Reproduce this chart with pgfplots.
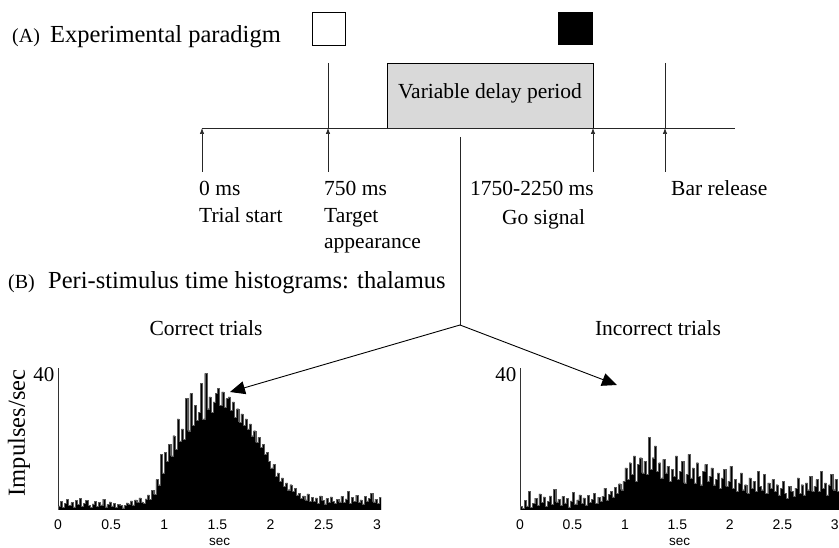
\documentclass[border=0pt]{standalone}
\usepackage{pgfplots}
\pgfplotsset{compat=1.18}
\usepackage{fontspec}
\setmainfont{Liberation Serif}
\newfontfamily\arial{Liberation Sans}
\usetikzlibrary{arrows.meta}

\newcommand\fbig{\fontsize{24.5}{28}\selectfont}
\newcommand\flab{\fontsize{20}{24}\selectfont}
\newcommand\ftxt{\fontsize{21.5}{25}\selectfont}
\newcommand\ftick{\arial\fontsize{14}{16}\selectfont}

\pgfplotsset{psth/.style={
  scale only axis, height=141.75pt,
  xmin=0, ymin=0, ymax=42,
  axis y line=left, axis x line=bottom,
  axis line style={-},
  x axis line style={draw=none},
  y axis line style={line width=0.6pt, black!80},
  xtick={0,0.5,1,1.5,2,2.5,3},
  xticklabels={0,0.5,1,1.5,2,2.5,3},
  ytick={40}, yticklabels={40},
  major tick length=0pt,
  /pgf/number format/assume math mode=true,
  xticklabel style={font=\ftick, yshift=-6pt},
  yticklabel style={font=\fontsize{21}{24}\selectfont},
  xlabel={sec},
  xlabel style={font=\arial\fontsize{13.5}{15}\selectfont, yshift=-2pt},
}}

\begin{document}
\begin{tikzpicture}[x=1pt,y=1pt]
\useasboundingbox (0,0) rectangle (839,548);

% (A) paradigm
\node[anchor=base west, inner sep=0] at (12,505) {\flab (A)};
\node[anchor=base west, inner sep=0] at (50,505) {\fbig Experimental paradigm};
\draw[line width=0.8pt] (312,503) rectangle (345,536);
\fill[black] (558,503) rectangle (593,536);

\draw[line width=0.8pt, fill=black!15] (387,420) rectangle (593,485);
\node at (490,455) {\ftxt Variable delay period};
\draw[line width=0.8pt, black!85] (202,420) -- (735,420);
\draw[line width=0.7pt, black!85] (328,485) -- (328,420);
\draw[line width=0.7pt, black!85] (665,485) -- (665,420);
\foreach \xx in {202,328,593,665}
  \draw[line width=0.7pt, black!85, -{Latex[length=6pt,width=4.5pt]}] (\xx,376) -- (\xx,420);

\node[anchor=base west, inner sep=0] at (199,352) {\ftxt 0 ms};
\node[anchor=base west, inner sep=0] at (199,325) {\ftxt Trial start};
\node[anchor=base west, inner sep=0] at (324,352) {\ftxt 750 ms};
\node[anchor=base west, inner sep=0] at (324,325) {\ftxt Target};
\node[anchor=base west, inner sep=0] at (324,299) {\ftxt appearance};
\node[anchor=base west, inner sep=0] at (470,352) {\ftxt 1750-2250 ms};
\node[anchor=base west, inner sep=0] at (502,323) {\ftxt Go signal};
\node[anchor=base west, inner sep=0] at (671,352) {\ftxt Bar release};

% (B) histograms
\node[anchor=base west, inner sep=0] at (8,259) {\flab (B)};
\node[anchor=base west, inner sep=0] at (48,259) {\fbig Peri-stimulus time histograms: thalamus};
\node[anchor=base, inner sep=0] at (206,212) {\ftxt Correct trials};
\node[anchor=base, inner sep=0] at (658,212) {\ftxt Incorrect trials};

\draw[line width=0.8pt, black!85] (460,411) -- (460,223);
\draw[line width=0.9pt, -{Triangle[length=15pt,width=13pt]}] (460,223) -- (230,156);
\draw[line width=0.9pt, -{Triangle[length=15pt,width=13pt]}] (460,223) -- (617,163);

\node[rotate=90] at (19,115) {\fbig Impulses/sec};

\begin{axis}[psth, at={(58pt,38pt)}, anchor=south west, width=323.2pt, xmax=3.04]
\addplot[const plot, fill=black, draw=black!65, line width=0.3pt] coordinates {
(0.00,1.2)(0.02,2.5)(0.04,0.8)(0.06,1.9)(0.08,3.1)(0.10,1.4)(0.12,2.2)(0.14,0.9)(0.16,2.8)(0.18,1.6)
(0.20,3.4)(0.22,1.1)(0.24,2.0)(0.26,2.9)(0.28,1.3)(0.30,0.7)(0.32,1.8)(0.34,2.6)(0.36,1.0)(0.38,2.3)
(0.40,1.5)(0.42,3.2)(0.44,0.9)(0.46,1.7)(0.48,2.4)(0.50,1.2)(0.52,2.0)(0.54,0.8)(0.56,1.6)(0.58,1.3)
(0.60,0.6)(0.62,1.4)(0.64,2.1)(0.66,1.8)(0.68,2.7)(0.70,1.5)(0.72,3.0)(0.74,2.2)(0.76,3.6)(0.78,2.4)
(0.80,1.9)(0.82,3.3)(0.84,4.5)(0.86,3.2)(0.88,5.8)(0.90,4.6)(0.92,9.0)(0.94,7.5)(0.96,16.5)(0.98,11.0)
(1.00,17.0)(1.02,14.5)(1.04,19.5)(1.06,16.0)(1.08,22.0)(1.10,18.0)(1.12,27.0)(1.14,20.5)(1.16,24.0)(1.18,21.0)
(1.20,33.0)(1.22,23.5)(1.24,34.5)(1.26,25.0)(1.28,31.0)(1.30,26.5)(1.32,29.0)(1.34,37.5)(1.36,27.0)(1.38,40.5)
(1.40,30.0)(1.42,33.5)(1.44,29.0)(1.46,32.0)(1.48,34.5)(1.50,36.0)(1.52,31.0)(1.54,35.0)(1.56,30.5)(1.58,33.0)
(1.60,33.5)(1.62,29.5)(1.64,32.0)(1.66,27.5)(1.68,30.0)(1.70,26.0)(1.72,28.5)(1.74,25.0)(1.76,27.0)(1.78,24.0)
(1.80,25.5)(1.82,22.0)(1.84,23.5)(1.86,20.0)(1.88,21.5)(1.90,18.5)(1.92,19.5)(1.94,16.5)(1.96,17.0)(1.98,14.5)
(2.00,12.5)(2.02,13.5)(2.04,10.0)(2.06,11.0)(2.08,8.5)(2.10,9.5)(2.12,7.0)(2.14,8.0)(2.16,6.0)(2.18,7.5)
(2.20,5.5)(2.22,6.5)(2.24,4.5)(2.26,5.0)(2.28,3.5)(2.30,4.2)(2.32,3.0)(2.34,4.8)(2.36,2.6)(2.38,3.8)
(2.40,2.5)(2.42,3.6)(2.44,2.0)(2.46,4.2)(2.48,2.8)(2.50,1.8)(2.52,3.4)(2.54,2.2)(2.56,3.9)(2.58,2.5)
(2.60,1.9)(2.62,3.1)(2.64,2.4)(2.66,4.0)(2.68,2.2)(2.70,3.3)(2.72,5.5)(2.74,2.0)(2.76,3.7)(2.78,2.6)
(2.80,4.4)(2.82,2.3)(2.84,3.0)(2.86,1.8)(2.88,4.1)(2.90,2.7)(2.92,3.5)(2.94,5.0)(2.96,2.4)(2.98,3.2)
(3.00,1.9)(3.02,3.8)(3.04,3.8)
} \closedcycle;
\end{axis}

\begin{axis}[psth, at={(520pt,38pt)}, anchor=south west, width=319pt, xmax=3.04]
\addplot[const plot, fill=black, draw=black!65, line width=0.3pt] coordinates {
(0.00,1.0)(0.02,0.5)(0.04,2.8)(0.06,1.2)(0.08,5.5)(0.10,0.8)(0.12,2.0)(0.14,3.5)(0.16,1.4)(0.18,4.8)
(0.20,2.2)(0.22,3.9)(0.24,1.0)(0.26,2.6)(0.28,4.2)(0.30,1.6)(0.32,6.2)(0.34,2.4)(0.36,3.2)(0.38,1.3)
(0.40,4.0)(0.42,2.1)(0.44,3.4)(0.46,0.9)(0.48,2.7)(0.50,5.2)(0.52,1.8)(0.54,3.0)(0.56,4.5)(0.58,2.0)
(0.60,3.6)(0.62,1.5)(0.64,4.4)(0.66,2.3)(0.68,3.1)(0.70,5.0)(0.72,1.9)(0.74,3.8)(0.76,2.5)(0.78,4.1)
(0.80,6.5)(0.82,3.0)(0.84,4.6)(0.86,5.5)(0.88,3.9)(0.90,6.8)(0.92,4.9)(0.94,7.8)(0.96,6.0)(0.98,8.5)
(1.00,12.5)(1.02,9.0)(1.04,14.0)(1.06,10.5)(1.08,16.0)(1.10,8.5)(1.12,13.5)(1.14,15.5)(1.16,11.0)(1.18,14.5)
(1.20,10.5)(1.22,21.5)(1.24,12.0)(1.26,15.5)(1.28,19.0)(1.30,11.5)(1.32,14.0)(1.34,9.5)(1.36,15.0)(1.38,11.0)
(1.40,13.0)(1.42,8.5)(1.44,12.0)(1.46,10.0)(1.48,16.0)(1.50,9.0)(1.52,11.5)(1.54,14.5)(1.56,8.0)(1.58,10.5)
(1.60,16.5)(1.62,9.5)(1.64,12.5)(1.66,8.0)(1.68,14.0)(1.70,10.0)(1.72,7.5)(1.74,11.5)(1.76,13.5)(1.78,8.5)
(1.80,10.0)(1.82,12.5)(1.84,7.5)(1.86,9.0)(1.88,11.0)(1.90,6.5)(1.92,9.5)(1.94,12.0)(1.96,7.0)(1.98,8.5)
(2.00,13.0)(2.02,6.5)(2.04,9.0)(2.06,5.5)(2.08,8.0)(2.10,11.0)(2.12,6.0)(2.14,7.5)(2.16,5.0)(2.18,9.5)
(2.20,6.5)(2.22,8.5)(2.24,5.5)(2.26,11.5)(2.28,7.0)(2.30,6.0)(2.32,10.5)(2.34,5.0)(2.36,8.0)(2.38,6.5)
(2.40,9.0)(2.42,5.5)(2.44,7.5)(2.46,4.5)(2.48,6.5)(2.50,8.5)(2.52,5.0)(2.54,3.5)(2.56,7.0)(2.58,5.5)
(2.60,4.0)(2.62,6.5)(2.64,9.5)(2.66,5.0)(2.68,7.5)(2.70,4.5)(2.72,8.0)(2.74,6.0)(2.76,10.0)(2.78,5.5)
(2.80,7.0)(2.82,9.0)(2.84,5.5)(2.86,11.5)(2.88,6.5)(2.90,8.0)(2.92,4.5)(2.94,7.5)(2.96,10.5)(2.98,6.0)
(3.00,9.0)(3.02,5.5)(3.04,5.5)
} \closedcycle;
\end{axis}
\end{tikzpicture}
\end{document}
